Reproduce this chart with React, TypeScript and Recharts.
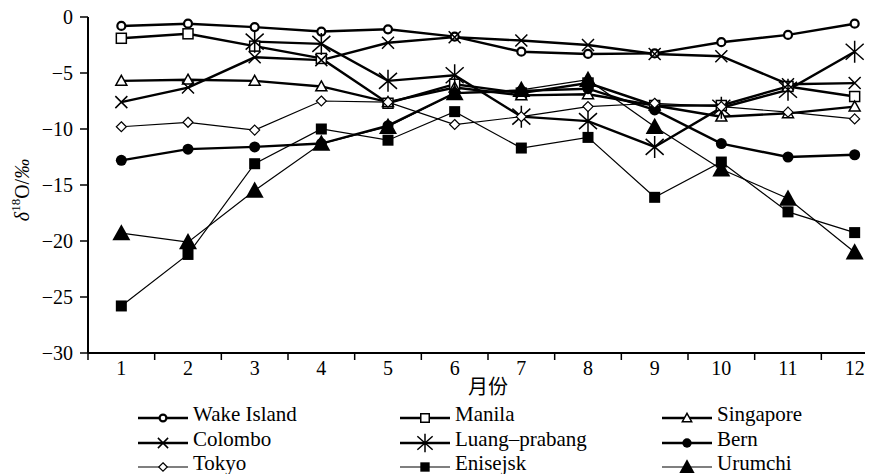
import React from "react";
import { LineChart, Line, XAxis, YAxis, Legend } from "recharts";

// monthly δ18O (‰)
const months = [1, 2, 3, 4, 5, 6, 7, 8, 9, 10, 11, 12];
const wakeIsland = [-0.8, -0.6, -0.9, -1.3, -1.1, -1.75, -3.1, -3.3, -3.25, -2.25, -1.6, -0.6];
const manila = [-1.9, -1.5, -2.6, -3.7, -7.7, -6.0, -6.8, -5.9, -7.9, -7.9, -6.2, -7.1];
const singapore = [-5.7, -5.6, -5.7, -6.2, -7.6, -6.3, -7.0, -6.9, -7.9, -8.9, -8.6, -8.0];
const colombo = [-7.6, -6.3, -3.6, -3.85, -2.3, -1.8, -2.1, -2.5, -3.3, -3.5, -6.0, -5.9];
const luangPrabang = [null, null, -2.2, -2.4, -5.7, -5.2, -8.9, -9.3, -11.6, -8.1, -6.5, -3.1];
const bern = [-12.8, -11.8, -11.6, -11.3, -9.7, -6.8, -6.6, -6.4, -8.3, -11.3, -12.5, -12.3];
const tokyo = [-9.8, -9.4, -10.1, -7.5, -7.6, -9.6, -8.9, -8.0, -7.7, -8.0, -8.5, -9.1];
const enisejsk = [-25.8, -21.2, -13.1, -10.0, -11.0, -8.45, -11.7, -10.75, -16.1, -12.95, -17.4, -19.25];
const urumchi = [-19.3, -20.1, -15.5, -11.3, -9.8, -6.8, -6.5, -5.6, -9.8, -13.6, -16.2, -21.0];

const yTicks = [0, -5, -10, -15, -20, -25, -30];
const xTicks = [0.5, 1, 1.5, 2, 2.5, 3, 3.5, 4, 4.5, 5, 5.5, 6, 6.5, 7, 7.5, 8, 8.5, 9, 9.5, 10, 10.5, 11, 11.5, 12, 12.5];

const serif = '"Liberation Serif"';
const cjk = '"Noto Sans CJK SC"';

const series = [
  { key: "wake", name: "Wake Island", values: wakeIsland, shape: "ring", width: 2.4 },
  { key: "manila", name: "Manila", values: manila, shape: "square", width: 2.4 },
  { key: "singapore", name: "Singapore", values: singapore, shape: "triangle", width: 2.4 },
  { key: "colombo", name: "Colombo", values: colombo, shape: "cross", width: 2.4 },
  { key: "luang", name: "Luang\u2013prabang", values: luangPrabang, shape: "star", width: 2.4 },
  { key: "bern", name: "Bern", values: bern, shape: "dot", width: 2.4 },
  { key: "tokyo", name: "Tokyo", values: tokyo, shape: "diamond", width: 1.2 },
  { key: "enisejsk", name: "Enisejsk", values: enisejsk, shape: "block", width: 1.2 },
  { key: "urumchi", name: "Urumchi", values: urumchi, shape: "bigTriangle", width: 1.2 },
];

const chartData = months.map((m, i) => {
  const row: any = { month: m };
  series.forEach((s) => {
    row[s.key] = s.values[i];
  });
  return row;
});

function Marker({ shape, cx, cy, s = 1 }: any) {
  const k = "#000";
  switch (shape) {
    case "ring":
      return <circle cx={cx} cy={cy} r={4 * s} fill="#fff" stroke={k} strokeWidth={2.2} />;
    case "square":
      return <rect x={cx - 5 * s} y={cy - 5 * s} width={10 * s} height={10 * s} fill="#fff" stroke={k} strokeWidth={1.5} />;
    case "triangle": {
      const h = 5.5 * s;
      return <polygon points={`${cx},${cy - h} ${cx + h},${cy + h * 0.8} ${cx - h},${cy + h * 0.8}`} fill="#fff" stroke={k} strokeWidth={1.5} />;
    }
    case "cross": {
      const h = 6 * s;
      return <path d={`M${cx - h},${cy - h}L${cx + h},${cy + h}M${cx - h},${cy + h}L${cx + h},${cy - h}`} stroke={k} strokeWidth={1.5} fill="none" />;
    }
    case "star": {
      const h = 11 * s, d = 9 * s, e = 8 * s;
      return (
        <path
          d={`M${cx},${cy - h}L${cx},${cy + h}M${cx - d},${cy - e}L${cx + d},${cy + e}M${cx - d},${cy + e}L${cx + d},${cy - e}`}
          stroke={k}
          strokeWidth={1.5}
          fill="none"
        />
      );
    }
    case "dot":
      return <circle cx={cx} cy={cy} r={5.5 * s} fill={k} />;
    case "diamond": {
      const h = 5 * s;
      return <polygon points={`${cx},${cy - h} ${cx + h},${cy} ${cx},${cy + h} ${cx - h},${cy}`} fill="#fff" stroke={k} strokeWidth={1.2} />;
    }
    case "block":
      return <rect x={cx - 5.5 * s} y={cy - 5.5 * s} width={11 * s} height={11 * s} fill={k} />;
    case "bigTriangle": {
      const h = 9 * s;
      return <polygon points={`${cx},${cy - h} ${cx + h},${cy + h * 0.8} ${cx - h},${cy + h * 0.8}`} fill={k} />;
    }
    default:
      return null;
  }
}

const renderDot = (shape: string) => (props: any) => {
  const { cx, cy, value, index } = props;
  if (value == null || cx == null || cy == null) return <g key={`e-${shape}-${index}`} />;
  return <Marker key={`${shape}-${index}`} shape={shape} cx={cx} cy={cy} />;
};

const MonthTick = ({ x, y, payload }: any) => {
  const v = payload.value;
  if (Number.isInteger(v)) {
    return (
      <text className="serif-txt" x={x} y={y + 22} textAnchor="middle" fontFamily="Liberation Serif" fontSize={20} fill="#000">
        {v}
      </text>
    );
  }
  return <line x1={x} x2={x} y1={y} y2={y + 7} stroke="#000" strokeWidth={1.5} />;
};

const XLabel = ({ viewBox }: any) => (
  <text x={viewBox.x + viewBox.width / 2} y={viewBox.y + 41} textAnchor="middle" fontFamily="Noto Sans CJK SC" fontSize={20} fill="#000">
    月份
  </text>
);

const YLabel = ({ viewBox }: any) => {
  const cx = 22;
  const cy = viewBox.y + viewBox.height / 2 + 5;
  return (
    <text className="serif-txt" x={cx} y={cy} transform={`rotate(-90 ${cx} ${cy})`} textAnchor="middle" dominantBaseline="central" fontFamily="Liberation Serif" fontSize={20} fill="#000">
      <tspan fontStyle="italic">δ</tspan>
      <tspan dy={-7} fontSize={13}>18</tspan>
      <tspan dy={7}>O/</tspan>
      <tspan fontStyle="italic">‰</tspan>
    </text>
  );
};

const legendCols = [138, 400, 662];
const legendRows = [20, 45, 69];

const LegendBox = () => (
  <svg width={873} height={76}>
    {series.map((s, i) => {
      const x = legendCols[i % 3];
      const y = legendRows[Math.floor(i / 3)];
      return (
        <g key={s.key}>
          <line x1={x} x2={x + 50} y1={y} y2={y} stroke="#000" strokeWidth={s.width} />
          <Marker shape={s.shape} cx={x + 25} cy={y} s={0.85} />
          <text className="serif-txt" x={x + 55} y={y + 3} fontFamily="Liberation Serif" fontSize={21} fill="#000">
            {s.name}
          </text>
        </g>
      );
    })}
  </svg>
);

export default function App() {
  return (
    <div style={{ margin: "-8px 0 0 -8px", width: 873, height: 474, overflow: "hidden", background: "#fff" }}>
      <style>{`.serif-txt, .yaxis-serif text { font-family: ${serif} !important; }`}</style>
      <LineChart width={900} height={474} data={chartData} margin={{ top: 17, right: 12, bottom: 0, left: 0 }}>
        <XAxis
          dataKey="month"
          type="number"
          domain={[0.5, 12.5]}
          ticks={xTicks}
          interval={0}
          tick={<MonthTick />}
          tickLine={false}
          tickSize={0}
          tickMargin={0}
          height={121}
          axisLine={{ stroke: "#000", strokeWidth: 2 }}
          label={<XLabel />}
        />
        <XAxis
          xAxisId="top"
          orientation="top"
          type="number"
          domain={[0.5, 12.5]}
          tick={false}
          tickLine={false}
          height={0}
          axisLine={{ stroke: "#000", strokeWidth: 2 }}
        />
        <YAxis
          className="yaxis-serif"
          type="number"
          domain={[-30, 0]}
          ticks={yTicks}
          interval={0}
          width={88}
          tickSize={8}
          tickMargin={7}
          tickLine={{ stroke: "#000", strokeWidth: 1.5 }}
          axisLine={{ stroke: "#000", strokeWidth: 2 }}
          tick={{ fontSize: 20, fill: "#000", fontFamily: "Liberation Serif" }}
          tickFormatter={(v: number) => String(v).replace("-", "\u2212")}
          label={<YLabel />}
        />
        <Legend
          layout="horizontal"
          verticalAlign="middle"
          align="center"
          wrapperStyle={{ top: 398, left: 0, width: 873, height: 76 }}
          content={<LegendBox />}
        />
        {series.map((s) => (
          <Line
            key={s.key}
            dataKey={s.key}
            name={s.name}
            stroke="#000"
            strokeWidth={s.width}
            dot={renderDot(s.shape)}
            activeDot={false}
            isAnimationActive={false}
          />
        ))}
      </LineChart>
    </div>
  );
}
